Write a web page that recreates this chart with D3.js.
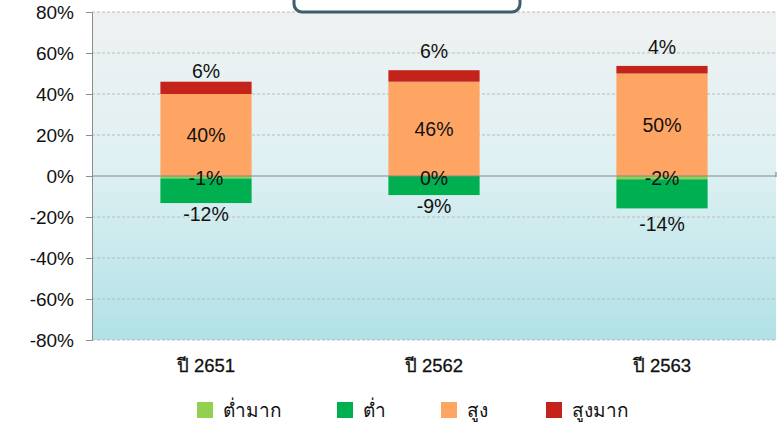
<!DOCTYPE html>
<html lang="th">
<head>
<meta charset="UTF-8">
<title>Stacked bars</title>
<script src="https://d3js.org/d3.v7.min.js"></script>
<style>
  body { margin: 0; background: #fff; }
  text { font-family: "Liberation Sans", Arial, sans-serif; fill: #111; }
  .cat { font-size: 18.5px; fill: #111; stroke: #111; stroke-width: 0.3px; }
  .leg { font-size: 19px; }
  .val { font-size: 19.5px; }
  .tick text { font-size: 19px; }
</style>
</head>
<body>
<svg id="main" width="783" height="432"></svg>
<script>
// data
let categories = ['ปี 2651', 'ปี 2562', 'ปี 2563'];
let seriesNames = ['ต่ำมาก', 'ต่ำ', 'สูง', 'สูงมาก'];
let veryLow  = [-1.2, -0, -1.6];
let low      = [-12, -9.3, -14.2];
let high     = [40, 46, 50];
let veryHigh = [6, 5.6, 3.7];
let yTicks   = [-80, -60, -40, -20, 0, 20, 40, 60, 80];

let colors = ['#92d050', '#00b050', '#ffa564', '#c3231a'];

let svg = d3.select('svg#main');
let plotL = 92, plotR = 776, plotT = 12, plotB = 340;

let x = d3.scaleBand().domain(categories).range([plotL, plotR]).paddingInner(0.6).paddingOuter(0.3);
let y = d3.scaleLinear().domain([-80, 80]).range([plotB, plotT]);

// plot background gradient
let grad = svg.append('defs').append('linearGradient')
    .attr('id', 'bg').attr('x1', 0).attr('y1', 0).attr('x2', 0).attr('y2', 1);
grad.append('stop').attr('offset', '0%').attr('stop-color', '#eff1f1');
grad.append('stop').attr('offset', '45%').attr('stop-color', '#e0f1f3');
grad.append('stop').attr('offset', '100%').attr('stop-color', '#b1e1e6');
svg.append('rect').attr('x', plotL).attr('y', plotT).attr('width', plotR - plotL).attr('height', plotB - plotT)
    .attr('fill', 'url(#bg)');

// gridlines
svg.append('g').selectAll('line').data(yTicks.filter(d => d !== 0)).join('line')
    .attr('x1', plotL).attr('x2', plotR)
    .attr('y1', d => y(d)).attr('y2', d => y(d))
    .attr('stroke', '#b9bcbd').attr('stroke-dasharray', '3,2').attr('stroke-width', 1);

// y axis
let yAxis = svg.append('g').attr('transform', `translate(${plotL},0)`)
    .call(d3.axisLeft(y).tickValues(yTicks).tickFormat(d => d + '%').tickSize(6).tickPadding(12));
yAxis.select('.domain').attr('stroke', '#8c8c8c');
yAxis.selectAll('.tick line').attr('stroke', '#8c8c8c');
yAxis.selectAll('.tick text').attr('fill', '#111').style('font-family', '"Liberation Sans", Arial, sans-serif');

// stacked segments
let rows = categories.map((c, i) => ({cat: c, vals: [veryLow[i], low[i], high[i], veryHigh[i]]}));
let segs = [];
rows.forEach(r => {
  let neg = 0, pos = 0;
  r.vals.forEach((v, k) => {
    let y0, y1;
    if (v < 0 || k < 2) { y0 = neg; neg += v; y1 = neg; }
    else { y0 = pos; pos += v; y1 = pos; }
    segs.push({cat: r.cat, k: k, v: v, y0: y0, y1: y1});
  });
});

svg.append('g').selectAll('rect').data(segs).join('rect')
    .attr('x', d => x(d.cat))
    .attr('width', x.bandwidth())
    .attr('y', d => y(Math.max(d.y0, d.y1)))
    .attr('height', d => Math.abs(y(d.y0) - y(d.y1)))
    .attr('fill', d => colors[d.k]);

// zero line with end tick
svg.append('line').attr('x1', plotL).attr('x2', plotR).attr('y1', y(0)).attr('y2', y(0))
    .attr('stroke', '#888').attr('stroke-width', 1.2);
svg.append('line').attr('x1', plotR).attr('x2', plotR).attr('y1', y(0) - 4).attr('y2', y(0) + 1)
    .attr('stroke', '#888').attr('stroke-width', 1.2);

// value labels
function labelY(d) {
  if (d.k === 0) return y(0) + 9;
  if (d.k === 1) return y(d.y1) + 18 + (d.cat === 'ปี 2563' ? 5 : 0);
  if (d.k === 2) return (y(d.y0) + y(d.y1)) / 2 + 7;
  return y(d.y1) - 4 - (d.cat === 'ปี 2651' ? 0 : 8);
}
svg.append('g').selectAll('text').data(segs).join('text')
    .attr('class', 'val')
    .attr('x', d => x(d.cat) + x.bandwidth() / 2)
    .attr('y', labelY)
    .attr('text-anchor', 'middle')
    .text(d => Math.round(d.v) + '%');

// category labels
svg.append('g').selectAll('text').data(categories).join('text')
    .attr('class', 'cat')
    .attr('x', d => x(d) + x.bandwidth() / 2)
    .attr('y', 372)
    .attr('text-anchor', 'middle')
    .text(d => d);

// legend
let legX = [197, 337, 441, 546];
let leg = svg.append('g').selectAll('g').data(seriesNames).join('g')
    .attr('transform', (d, i) => `translate(${legX[i]},402)`);
leg.append('rect').attr('width', 16).attr('height', 16).attr('fill', (d, i) => colors[i]);
leg.append('text').attr('class', 'leg').attr('x', 26).attr('y', 15).text(d => d);

// title box cut off at the top
svg.append('rect').attr('x', 294).attr('y', -20).attr('width', 226).attr('height', 32)
    .attr('rx', 8).attr('fill', '#fff').attr('stroke', '#3c5f6c').attr('stroke-width', 3);
</script>
</body>
</html>
